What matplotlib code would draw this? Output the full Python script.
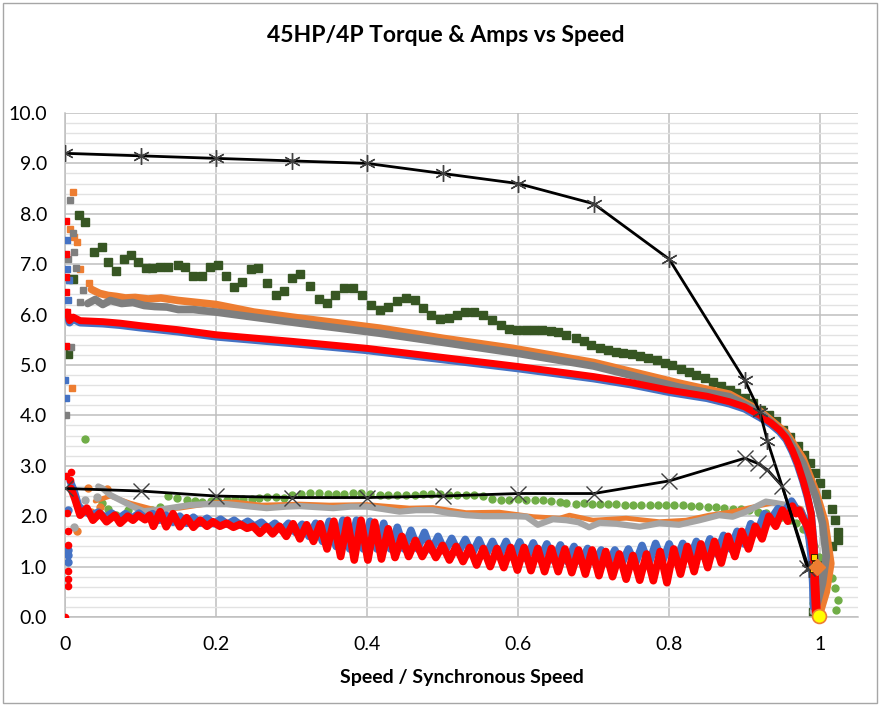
import matplotlib
matplotlib.use('Agg')
import matplotlib.pyplot as plt
from matplotlib.patches import Rectangle
from matplotlib.ticker import MultipleLocator, FuncFormatter

plt.rcParams['font.family'] = ['Lato', 'DejaVu Sans']

# ---------------- data ----------------
title = "45HP/4P Torque & Amps vs Speed"
xlabel = "Speed / Synchronous Speed"

calc_amps_x = [0.0, 0.1, 0.2, 0.3, 0.4, 0.5, 0.6, 0.7, 0.8, 0.9, 0.92, 0.93, 0.985]
calc_amps_y = [9.2, 9.15, 9.1, 9.05, 9.0, 8.8, 8.6, 8.2, 7.1, 4.7, 4.07, 3.5, 0.95]

calc_torque_x = [0.0, 0.1, 0.2, 0.3, 0.4, 0.5, 0.6, 0.7, 0.8, 0.9, 0.917, 0.93, 0.95, 0.983]
calc_torque_y = [2.55, 2.5, 2.4, 2.37, 2.37, 2.4, 2.45, 2.45, 2.7, 3.15, 3.05, 2.92, 2.59, 0.97]

dkgreen_amps = [(0.004, 5.22), (0.010, 6.70), (0.018, 7.97), (0.026, 7.84), (0.038, 7.24), (0.049, 7.35),
                (0.057, 7.05), (0.068, 6.87), (0.078, 7.10), (0.087, 7.19), (0.097, 7.04), (0.107, 6.93),
                (0.115, 6.93), (0.126, 6.95), (0.137, 6.95), (0.149, 6.98), (0.159, 6.94), (0.170, 6.77),
                (0.181, 6.77), (0.192, 6.94), (0.203, 6.98), (0.213, 6.77), (0.224, 6.55), (0.234, 6.64),
                (0.246, 6.90), (0.256, 6.92), (0.267, 6.62), (0.279, 6.39), (0.290, 6.47), (0.301, 6.72),
                (0.311, 6.80), (0.324, 6.57), (0.336, 6.31), (0.347, 6.24), (0.358, 6.38), (0.370, 6.53),
                (0.381, 6.53), (0.393, 6.38), (0.405, 6.20), (0.417, 6.10), (0.428, 6.16), (0.440, 6.26),
                (0.451, 6.33), (0.463, 6.28), (0.474, 6.14), (0.485, 6.00), (0.496, 5.92), (0.508, 5.94),
                (0.519, 5.99), (0.530, 6.05), (0.542, 6.05), (0.553, 5.99), (0.565, 5.89), (0.577, 5.79),
                (0.588, 5.71), (0.599, 5.69), (0.610, 5.69), (0.621, 5.69), (0.632, 5.69), (0.643, 5.67),
                (0.653, 5.65), (0.664, 5.59), (0.676, 5.54), (0.687, 5.48), (0.697, 5.40), (0.708, 5.33),
                (0.719, 5.30), (0.729, 5.26), (0.739, 5.24), (0.751, 5.22), (0.761, 5.18), (0.772, 5.13),
                (0.784, 5.09), (0.794, 5.03), (0.804, 5.00), (0.815, 4.93), (0.826, 4.87), (0.836, 4.80),
                (0.847, 4.75), (0.858, 4.67), (0.869, 4.58), (0.880, 4.50), (0.889, 4.44), (0.901, 4.34),
                (0.911, 4.24), (0.922, 4.11), (0.932, 4.01), (0.941, 3.89), (0.951, 3.72), (0.960, 3.58),
                (0.970, 3.40), (0.979, 3.21), (0.987, 3.05), (0.993, 2.85), (1.000, 2.65), (1.008, 2.45),
                (1.016, 2.14), (1.020, 1.92), (1.023, 1.69), (1.023, 1.53), (1.016, 1.40), (1.005, 1.15),
                (0.996, 0.80), (0.992, 0.40), (0.990, 0.10)]

ltgreen_torque = [(0.026, 3.53), (0.049, 2.27), (0.057, 2.15), (0.068, 2.02), (0.084, 2.12), (0.100, 2.10),
                  (0.115, 2.12), (0.126, 2.19), (0.137, 2.40), (0.148, 2.37), (0.161, 2.32), (0.172, 2.30),
                  (0.182, 2.29), (0.193, 2.30), (0.203, 2.30), (0.214, 2.32), (0.225, 2.34), (0.236, 2.34),
                  (0.247, 2.35), (0.257, 2.37), (0.268, 2.38), (0.279, 2.39), (0.290, 2.37), (0.301, 2.42),
                  (0.313, 2.45), (0.324, 2.47), (0.336, 2.47), (0.348, 2.44), (0.359, 2.44), (0.370, 2.45),
                  (0.381, 2.47), (0.392, 2.47), (0.404, 2.45), (0.417, 2.43), (0.428, 2.43), (0.440, 2.43),
                  (0.451, 2.43), (0.463, 2.43), (0.474, 2.45), (0.485, 2.45), (0.497, 2.45), (0.508, 2.43),
                  (0.519, 2.43), (0.531, 2.42), (0.542, 2.42), (0.553, 2.40), (0.566, 2.35), (0.577, 2.32),
                  (0.588, 2.32), (0.600, 2.34), (0.611, 2.32), (0.622, 2.32), (0.633, 2.32), (0.644, 2.31),
                  (0.655, 2.29), (0.664, 2.26), (0.676, 2.25), (0.687, 2.26), (0.698, 2.24), (0.708, 2.24),
                  (0.719, 2.24), (0.730, 2.24), (0.741, 2.23), (0.752, 2.23), (0.763, 2.23), (0.774, 2.23),
                  (0.785, 2.22), (0.796, 2.22), (0.807, 2.22), (0.818, 2.22), (0.829, 2.21), (0.840, 2.20),
                  (0.851, 2.19), (0.862, 2.18), (0.873, 2.17), (0.884, 2.15), (0.895, 2.14), (0.906, 2.12),
                  (0.917, 2.09), (0.928, 2.06), (0.939, 2.03), (0.950, 1.99), (0.960, 1.92), (0.968, 1.86),
                  (0.977, 1.75), (0.985, 1.59), (0.992, 1.40), (0.999, 1.20), (1.008, 0.93), (1.016, 0.77),
                  (1.020, 0.57), (1.024, 0.34), (1.021, 0.14), (0.990, 0.28)]

orange_amps = [(0.035, 6.50), (0.046, 6.42), (0.057, 6.38),
               (0.068, 6.36), (0.080, 6.33), (0.093, 6.34), (0.110, 6.31), (0.127, 6.33), (0.150, 6.28),
               (0.200, 6.20), (0.250, 6.05), (0.311, 5.93), (0.417, 5.73), (0.500, 5.53), (0.593, 5.33),
               (0.700, 5.05), (0.813, 4.64), (0.880, 4.42), (0.919, 4.10), (0.955, 3.65), (0.977, 3.15),
               (0.994, 2.50), (1.006, 1.90), (1.014, 1.06), (1.008, 0.50), (1.000, 0.10)]
orange_amps_pts = [(0.010, 8.43), (0.007, 7.70), (0.012, 7.54), (0.016, 7.45), (0.020, 6.90),
                   (0.032, 6.62), (0.009, 4.55)]

gray_amps = [(0.030, 6.22), (0.040, 6.30), (0.050, 6.20), (0.060, 6.28), (0.075, 6.22),
             (0.090, 6.24), (0.105, 6.18), (0.119, 6.16), (0.135, 6.15), (0.150, 6.10), (0.170, 6.10),
             (0.200, 6.05), (0.250, 5.95), (0.311, 5.83), (0.417, 5.63), (0.500, 5.45), (0.600, 5.23),
             (0.700, 4.98), (0.813, 4.56), (0.880, 4.37), (0.919, 4.07), (0.955, 3.60), (0.977, 3.05),
             (0.994, 2.39), (1.003, 1.86), (1.008, 1.20), (1.003, 0.67), (0.996, 0.27)]
gray_amps_pts = [(0.007, 8.28), (0.010, 7.62), (0.012, 7.25), (0.004, 7.10), (0.014, 6.92), (0.024, 6.49),
                 (0.020, 6.25), (0.008, 5.36), (0.001, 4.00)]

blue_amps = [(0.003, 6.00), (0.006, 5.84), (0.011, 5.91), (0.020, 5.84), (0.050, 5.82), (0.073, 5.79),
             (0.100, 5.74), (0.150, 5.66), (0.200, 5.56), (0.300, 5.43), (0.400, 5.29), (0.500, 5.11),
             (0.600, 4.93), (0.700, 4.73), (0.750, 4.61), (0.800, 4.46), (0.850, 4.34), (0.880, 4.23),
             (0.900, 4.13), (0.920, 3.96), (0.935, 3.82), (0.946, 3.68), (0.955, 3.52), (0.963, 3.28),
             (0.970, 3.02), (0.977, 2.70), (0.983, 2.38), (0.988, 2.04), (0.992, 1.37), (0.994, 0.71)]
blue_amps_pts = [(0.002, 7.48), (0.003, 6.90), (0.005, 6.69), (0.004, 6.29), (0.000, 4.70), (0.001, 4.35)]

red_amps = [(0.003, 6.05), (0.006, 5.88), (0.011, 5.95), (0.020, 5.88), (0.050, 5.86), (0.073, 5.83),
            (0.100, 5.78), (0.150, 5.70), (0.200, 5.60), (0.300, 5.47), (0.400, 5.33), (0.500, 5.15),
            (0.600, 4.97), (0.700, 4.77), (0.750, 4.65), (0.800, 4.50), (0.850, 4.38), (0.880, 4.27),
            (0.900, 4.17), (0.920, 4.00), (0.935, 3.85), (0.946, 3.71), (0.955, 3.55), (0.963, 3.31),
            (0.970, 3.05), (0.977, 2.72), (0.983, 2.40), (0.988, 2.06), (0.992, 1.39), (0.994, 0.73),
            (0.996, 0.14)]
red_amps_pts = [(0.001, 7.86), (0.001, 7.20), (0.001, 6.75), (0.001, 6.45), (0.003, 6.06), (0.001, 5.38)]

orange_torque = [(0.040, 2.30), (0.060, 2.40), (0.086, 2.26), (0.121, 2.12), (0.152, 2.16), (0.200, 2.27),
                 (0.226, 2.28), (0.260, 2.22), (0.311, 2.24), (0.350, 2.22), (0.400, 2.23), (0.456, 2.16),
                 (0.487, 2.17), (0.531, 2.07), (0.575, 2.08), (0.620, 1.99), (0.655, 1.96), (0.668, 2.02),
                 (0.699, 1.92), (0.743, 1.96), (0.787, 1.89), (0.822, 1.92), (0.853, 2.02), (0.884, 2.09),
                 (0.910, 2.18), (0.937, 2.26), (0.960, 2.22), (0.975, 2.15), (0.985, 1.80), (0.993, 1.20),
                 (0.997, 0.60), (1.000, 0.10)]
orange_torque_pts = [(0.031, 2.55), (0.055, 2.53), (0.046, 2.19), (0.035, 2.09), (0.016, 1.71)]

gray_torque = [(0.044, 2.59), (0.050, 2.55), (0.060, 2.42), (0.077, 2.29), (0.090, 2.19), (0.104, 2.10),
               (0.121, 2.12), (0.143, 2.17), (0.165, 2.22), (0.187, 2.24), (0.214, 2.24), (0.240, 2.20),
               (0.267, 2.16), (0.293, 2.19), (0.311, 2.20), (0.333, 2.18), (0.355, 2.16), (0.378, 2.19),
               (0.400, 2.19), (0.422, 2.14), (0.443, 2.09), (0.465, 2.12), (0.487, 2.12), (0.509, 2.06),
               (0.531, 2.02), (0.553, 2.00), (0.575, 2.00), (0.597, 2.00), (0.611, 1.99), (0.626, 1.83),
               (0.646, 1.94), (0.664, 1.92), (0.680, 1.88), (0.694, 1.78), (0.708, 1.87), (0.730, 1.85),
               (0.761, 1.79), (0.787, 1.86), (0.813, 1.83), (0.840, 1.92), (0.866, 2.02), (0.884, 1.99),
               (0.902, 2.09), (0.915, 2.19), (0.928, 2.29), (0.941, 2.26), (0.955, 2.22), (0.972, 2.12),
               (0.985, 1.80), (0.992, 1.30), (0.995, 0.80), (0.993, 0.30), (0.990, 0.10)]
gray_torque_pts = [(0.027, 2.32), (0.042, 2.38), (0.012, 1.78)]

blue_torque = [(0.007, 2.69), (0.012, 2.50), (0.018, 2.20), (0.026, 2.10), (0.035, 2.02), (0.044, 2.08),
               (0.053, 1.98), (0.062, 2.06), (0.071, 1.95), (0.080, 2.05), (0.089, 1.96), (0.098, 2.06),
               (0.107, 1.95), (0.116, 2.05), (0.125, 1.92), (0.134, 2.02), (0.143, 1.88), (0.152, 2.00),
               (0.161, 1.86), (0.170, 1.98), (0.179, 1.86), (0.188, 1.96), (0.197, 1.85), (0.206, 1.94),
               (0.215, 1.84), (0.224, 1.92), (0.233, 1.82), (0.242, 1.90), (0.251, 1.80), (0.260, 1.88),
               (0.269, 1.76), (0.278, 1.86), (0.287, 1.72), (0.296, 1.86), (0.305, 1.68), (0.314, 1.84),
               (0.323, 1.60), (0.332, 1.86), (0.341, 1.50), (0.350, 1.90), (0.359, 1.40), (0.368, 1.92),
               (0.377, 1.35), (0.386, 1.92), (0.395, 1.35), (0.404, 1.90), (0.413, 1.35), (0.422, 1.86),
               (0.431, 1.35), (0.440, 1.78), (0.449, 1.35), (0.458, 1.72), (0.467, 1.35), (0.476, 1.68),
               (0.485, 1.32), (0.494, 1.60), (0.503, 1.30), (0.512, 1.56), (0.521, 1.28), (0.530, 1.54),
               (0.539, 1.25), (0.548, 1.53), (0.557, 1.22), (0.566, 1.50), (0.575, 1.20), (0.584, 1.50),
               (0.593, 1.18), (0.602, 1.49), (0.611, 1.15), (0.620, 1.47), (0.629, 1.15), (0.638, 1.45),
               (0.647, 1.12), (0.656, 1.43), (0.665, 1.10), (0.674, 1.40), (0.683, 1.10), (0.692, 1.36),
               (0.701, 1.08), (0.710, 1.33), (0.719, 1.05), (0.728, 1.33), (0.737, 1.05), (0.746, 1.35),
               (0.755, 1.05), (0.764, 1.42), (0.773, 1.05), (0.782, 1.46), (0.791, 1.10), (0.800, 1.45),
               (0.809, 1.10), (0.818, 1.46), (0.827, 1.15), (0.836, 1.50), (0.845, 1.20), (0.854, 1.55),
               (0.863, 1.25), (0.872, 1.62), (0.881, 1.35), (0.890, 1.70), (0.899, 1.45), (0.908, 1.85),
               (0.917, 1.70), (0.926, 2.05), (0.935, 1.95), (0.944, 2.15), (0.953, 2.10), (0.962, 2.30),
               (0.968, 2.15), (0.974, 2.10), (0.980, 1.90), (0.985, 1.60), (0.988, 1.20), (0.990, 0.70),
               (0.991, 0.20)]
blue_torque_pts = [(0.004, 2.12), (0.004, 1.33), (0.004, 1.23), (0.004, 1.10)]

red_torque = [(0.008, 2.55), (0.013, 2.35), (0.020, 2.02), (0.029, 2.16), (0.037, 1.92), (0.046, 2.06),
              (0.055, 1.89), (0.066, 2.02), (0.073, 1.86), (0.083, 2.00), (0.090, 1.92), (0.097, 2.02),
              (0.106, 1.93), (0.112, 2.02), (0.117, 1.80), (0.126, 2.09), (0.134, 1.79), (0.143, 2.05),
              (0.152, 1.79), (0.161, 1.97), (0.170, 1.78), (0.179, 1.92), (0.188, 1.80), (0.196, 1.89),
              (0.205, 1.80), (0.214, 1.86), (0.223, 1.78), (0.232, 1.84), (0.241, 1.76), (0.249, 1.80),
              (0.258, 1.66), (0.267, 1.79), (0.275, 1.65), (0.284, 1.80), (0.293, 1.60), (0.302, 1.85),
              (0.311, 1.55), (0.320, 1.83), (0.329, 1.50), (0.338, 1.85), (0.347, 1.35), (0.356, 1.90),
              (0.365, 1.20), (0.374, 1.92), (0.383, 1.13), (0.392, 1.92), (0.401, 1.13), (0.410, 1.88),
              (0.419, 1.15), (0.428, 1.75), (0.437, 1.18), (0.446, 1.60), (0.455, 1.20), (0.464, 1.52),
              (0.473, 1.20), (0.482, 1.46), (0.491, 1.18), (0.500, 1.42), (0.509, 1.13), (0.518, 1.40),
              (0.527, 1.10), (0.536, 1.38), (0.545, 1.03), (0.554, 1.36), (0.563, 1.00), (0.572, 1.36),
              (0.581, 0.98), (0.590, 1.38), (0.599, 0.93), (0.608, 1.38), (0.617, 0.92), (0.626, 1.36),
              (0.635, 0.90), (0.644, 1.36), (0.653, 0.90), (0.662, 1.35), (0.671, 0.88), (0.680, 1.33),
              (0.689, 0.85), (0.698, 1.33), (0.707, 0.82), (0.716, 1.30), (0.725, 0.80), (0.734, 1.25),
              (0.743, 0.75), (0.752, 1.22), (0.761, 0.73), (0.770, 1.25), (0.779, 0.72), (0.788, 1.30),
              (0.797, 0.68), (0.806, 1.35), (0.815, 0.85), (0.824, 1.40), (0.833, 0.90), (0.842, 1.45),
              (0.851, 0.98), (0.860, 1.50), (0.869, 1.07), (0.878, 1.60), (0.887, 1.20), (0.896, 1.70),
              (0.905, 1.35), (0.914, 1.80), (0.923, 1.55), (0.932, 2.00), (0.941, 1.80), (0.950, 2.12),
              (0.957, 1.90), (0.963, 2.20), (0.968, 2.05), (0.972, 2.12), (0.977, 1.95), (0.981, 1.86),
              (0.985, 1.70), (0.988, 1.55), (0.990, 1.30), (0.992, 1.05), (0.992, 0.70), (0.993, 0.40),
              (0.994, 0.10)]
red_torque_pts = [(0.001, 2.80), (0.008, 2.88), (0.007, 2.72), (0.003, 2.06), (0.004, 1.71), (0.004, 1.43),
                  (0.004, 0.92), (0.004, 0.75), (0.004, 0.62), (0.000, 0.00)]

yellow_pts = [(0.992, 1.20), (0.991, 0.95), (0.993, 1.05)]
yellow_end = [(0.998, 0.02)]
orange_mark = [(0.996, 0.99)]


def xy(pairs):
    return [p[0] for p in pairs], [p[1] for p in pairs]


# ---------------- figure ----------------
W, H = 880, 706
fig = plt.figure(figsize=(W / 100, H / 100), dpi=100)
fig.patch.set_facecolor('white')
fig.add_artist(Rectangle((3 / W, 3 / H), (W - 6) / W, (H - 6) / H, transform=fig.transFigure,
                         fill=False, edgecolor='#A6A6A6', lw=1.0))

ax = fig.add_axes([65 / W, (H - 617) / H, (858 - 65) / W, (617 - 113) / H])
ax.set_xlim(0, 1.05)
ax.set_ylim(0, 10)
ax.set_axisbelow(True)

ax.xaxis.set_major_locator(MultipleLocator(0.2))
ax.yaxis.set_major_locator(MultipleLocator(1.0))
ax.yaxis.set_minor_locator(MultipleLocator(0.2))
ax.grid(which='major', axis='both', color='#BFBFBF', lw=1.1)
ax.grid(which='minor', axis='y', color='#E2E2E2', lw=1.0)
ax.yaxis.set_major_formatter(FuncFormatter(lambda v, p: f'{v:.1f}'))


def xfmt(v, p):
    if abs(v) < 1e-9:
        return '0'
    if abs(v - 1) < 1e-9:
        return '1'
    return f'{v:.1f}'


ax.xaxis.set_major_formatter(FuncFormatter(xfmt))
ax.tick_params(axis='both', which='both', length=0, labelsize=14, colors='#000000')
ax.tick_params(axis='y', pad=13)
ax.tick_params(axis='x', pad=14)
for s in ['top', 'right']:
    ax.spines[s].set_visible(False)
for s in ['left', 'bottom']:
    ax.spines[s].set_color('#BFBFBF')
    ax.spines[s].set_linewidth(1.1)

BLUE, ORANGE, GRAY, LGRAY, RED = '#4472C4', '#ED7D31', '#7F7F7F', '#A5A5A5', '#FF0000'
DKGREEN, LTGREEN = '#375623', '#70AD47'

# dark green squares (amps) and green dots (torque)
x, y = xy(dkgreen_amps)
ax.plot(x, y, ls='none', marker='s', ms=5.5, color=DKGREEN, zorder=2)
x, y = xy(ltgreen_torque)
ax.plot(x, y, ls='none', marker='o', ms=5, color=LTGREEN, zorder=2)

# orange
x, y = xy(orange_amps)
ax.plot(x, y, color=ORANGE, lw=5.5, solid_capstyle='round', solid_joinstyle='round', zorder=3)
x, y = xy(orange_amps_pts)
ax.plot(x, y, ls='none', marker='s', ms=5, color=ORANGE, zorder=3)
x, y = xy(orange_torque)
ax.plot(x, y, color=ORANGE, lw=3.5, solid_capstyle='round', solid_joinstyle='round', zorder=3)
x, y = xy(orange_torque_pts)
ax.plot(x, y, ls='none', marker='o', ms=5, color=ORANGE, zorder=3)

# gray
x, y = xy(gray_amps)
ax.plot(x, y, color=GRAY, lw=5.5, solid_capstyle='round', solid_joinstyle='round', zorder=4)
x, y = xy(gray_amps_pts)
ax.plot(x, y, ls='none', marker='s', ms=5, color=GRAY, zorder=4)
x, y = xy(gray_torque)
ax.plot(x, y, color=LGRAY, lw=4.5, solid_capstyle='round', solid_joinstyle='round', zorder=4)
x, y = xy(gray_torque_pts)
ax.plot(x, y, ls='none', marker='o', ms=5, color=LGRAY, zorder=4)

# blue
x, y = xy(blue_amps)
ax.plot(x, y, color=BLUE, lw=5.5, solid_capstyle='round', solid_joinstyle='round', zorder=5)
x, y = xy(blue_amps_pts)
ax.plot(x, y, ls='none', marker='s', ms=5, color=BLUE, zorder=5)
x, y = xy(blue_torque)
ax.plot(x, y, color=BLUE, lw=5.5, solid_capstyle='round', solid_joinstyle='round', zorder=5)
x, y = xy(blue_torque_pts)
ax.plot(x, y, ls='none', marker='o', ms=5, color=BLUE, zorder=5)

# red
x, y = xy(red_amps)
ax.plot(x, y, color=RED, lw=5, solid_capstyle='round', solid_joinstyle='round', zorder=6)
x, y = xy(red_amps_pts)
ax.plot(x, y, ls='none', marker='s', ms=4, color=RED, zorder=6)
x, y = xy(red_torque)
ax.plot(x, y, color=RED, lw=5.5, solid_capstyle='round', solid_joinstyle='round', zorder=6)
x, y = xy(red_torque_pts)
ax.plot(x, y, ls='none', marker='o', ms=4.5, color=RED, zorder=6)

# calculated curves (black)
ax.plot(calc_amps_x, calc_amps_y, color='black', lw=2, marker=(6, 2, 0), ms=12, mew=1,
        mec='#404040', zorder=7)
ax.plot(calc_torque_x, calc_torque_y, color='black', lw=2, marker='x', ms=11, mew=1,
        mec='#404040', zorder=7)

# small markers at the end of the curves
x, y = xy(yellow_pts)
ax.plot(x, y, ls='none', marker='s', ms=4, color='#FFD700', mec='black', mew=0.5, zorder=8)
x, y = xy(orange_mark)
ax.plot(x, y, ls='none', marker='D', ms=8, color=ORANGE, zorder=8)
x, y = xy(yellow_end)
ax.plot(x, y, ls='none', marker='o', ms=10, color='#FFFF00', mec=ORANGE, mew=1.2, zorder=9,
        clip_on=False)

fig.text(446 / W, 1 - 35 / H, title, ha='center', va='center', fontsize=16.5, fontweight='bold')
fig.text(462 / W, 1 - 677 / H, xlabel, ha='center', va='center', fontsize=14, fontweight='bold')

fig.savefig('out.png', dpi=100, facecolor='white')
